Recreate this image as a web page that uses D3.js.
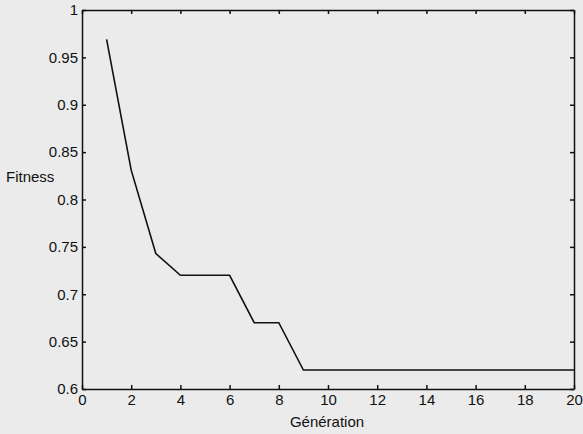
<!DOCTYPE html>
<html>
<head>
<meta charset="utf-8">
<script src="https://cdn.jsdelivr.net/npm/d3@7"></script>
<style>
  body { margin: 0; background: #ebebeb; }
  svg { display: block; font-family: "Liberation Sans", Arial, sans-serif; }
  .axis text { font-size: 15px; fill: #111; }
  .axis path, .axis line { stroke: #111; stroke-width: 1.5; }
</style>
</head>
<body>
<div id="chart"></div>
<script>
// generation / best fitness
const generations = [1, 2, 3, 4, 5, 6, 7, 8, 9, 10, 11, 12, 13, 14, 15, 16, 17, 18, 19, 20];
const fitness = [0.969, 0.831, 0.743, 0.72, 0.72, 0.72, 0.67, 0.67, 0.62, 0.62,
                 0.62, 0.62, 0.62, 0.62, 0.62, 0.62, 0.62, 0.62, 0.62, 0.62];
const xTicks = [0, 2, 4, 6, 8, 10, 12, 14, 16, 18, 20];
const yTicks = [0.6, 0.65, 0.7, 0.75, 0.8, 0.85, 0.9, 0.95, 1];

let margin = {top: 10, right: 9, bottom: 45, left: 82};
let width = 583 - margin.left - margin.right;
let height = 434 - margin.top - margin.bottom;

let svg = d3.select("#chart").append("svg")
    .attr("width", 583)
    .attr("height", 434)
    .append("g")
    .attr("transform", "translate(" + margin.left + "," + margin.top + ")");

let x = d3.scaleLinear().domain([0, 20]).range([0, width]);
let y = d3.scaleLinear().domain([0.6, 1]).range([height, 0]);

let fmt = d => d3.format("~g")(d);

// bottom + left with labels, top + right ticks only (inward)
svg.append("g")
    .attr("class", "axis")
    .attr("transform", `translate(0, ${height})`)
    .call(d3.axisBottom(x).tickValues(xTicks).tickFormat(fmt).tickSizeInner(-4).tickSizeOuter(0).tickPadding(5));

svg.append("g")
    .attr("class", "axis")
    .call(d3.axisLeft(y).tickValues(yTicks).tickFormat(fmt).tickSizeInner(-4).tickSizeOuter(0).tickPadding(4));

svg.append("g")
    .attr("class", "axis")
    .call(d3.axisTop(x).tickValues(xTicks).tickFormat("").tickSizeInner(-4).tickSizeOuter(0));

svg.append("g")
    .attr("class", "axis")
    .attr("transform", `translate(${width}, 0)`)
    .call(d3.axisRight(y).tickValues(yTicks).tickFormat("").tickSizeInner(-4).tickSizeOuter(0));

let data = generations.map((g, i) => ({g: g, f: fitness[i]}));

svg.append("path")
    .datum(data)
    .attr("fill", "none")
    .attr("stroke", "#111")
    .attr("stroke-width", 1.6)
    .attr("d", d3.line().x(d => x(d.g)).y(d => y(d.f)));

svg.append("text")
    .text("Génération")
    .attr("x", width / 2 - 1)
    .attr("y", height + 38)
    .attr("text-anchor", "middle")
    .style("font-size", "15px")
    .style("fill", "#111");

svg.append("text")
    .text("Fitness")
    .attr("x", -76)
    .attr("y", y(0.82) + 1)
    .style("font-size", "15px")
    .style("fill", "#111");
</script>
</body>
</html>
